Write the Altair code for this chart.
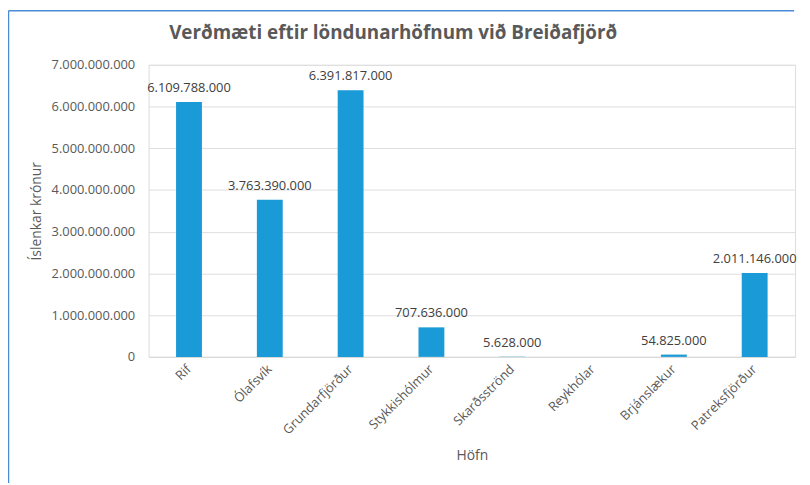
import altair as alt
import pandas as pd

hafnir = ["Rif", "Ólafsvík", "Grundarfjörður", "Stykkishólmur",
          "Skarðsströnd", "Reykhólar", "Brjánslækur", "Patreksfjörður"]
verdmaeti = [6109788000, 3763390000, 6391817000, 707636000,
             5628000, None, 54825000, 2011146000]
y_ticks = [0, 1e9, 2e9, 3e9, 4e9, 5e9, 6e9, 7e9]
titill = "Verðmæti eftir löndunarhöfnum við Breiðafjörð"

df = pd.DataFrame({"hofn": hafnir, "verd": verdmaeti})

FONT = "Open Sans"
GRAY = "#595959"
BAR = "#1a9ad6"

x_enc = alt.X("hofn:N", sort=hafnir,
              scale=alt.Scale(paddingInner=0.68, paddingOuter=0.34),
              axis=alt.Axis(title="Höfn", labelAngle=-45, labelAlign="right",
                            labelBaseline="middle", labelPadding=10,
                            labelFontSize=13, labelColor=GRAY, labelFont=FONT,
                            ticks=False, domainColor="#d9d9d9",
                            titleFontSize=14, titleColor=GRAY, titleFont=FONT,
                            titleFontWeight="normal", titleY=93,
                            titleBaseline="top"))
y_enc = alt.Y("verd:Q", scale=alt.Scale(domain=[0, 7e9]),
              axis=alt.Axis(title="Íslenkar krónur", values=y_ticks,
                            format=",d", labelFontSize=13, labelColor=GRAY,
                            labelFont=FONT, labelPadding=14, ticks=False,
                            domain=False, gridColor="#dedede",
                            titleFontSize=14, titleColor=GRAY, titleFont=FONT,
                            titleFontWeight="normal", titleX=-106,
                            titleBaseline="bottom"))

base = alt.Chart(df)
bars = base.mark_bar(color=BAR).encode(x=x_enc, y=y_enc)
labels = base.transform_filter("isValid(datum.verd)").mark_text(
    baseline="bottom", dy=-7, fontSize=13, font=FONT, color="#404040"
).encode(x=alt.X("hofn:N", sort=hafnir), y="verd:Q",
         text=alt.Text("verd:Q", format=",d"))

one_df = pd.DataFrame({"titill": [titill]})
title_mark = alt.Chart(one_df).mark_text(
    fontSize=19, font=FONT, fontWeight="bold", color=GRAY,
    align="center", baseline="middle"
).encode(x=alt.value(247), y=alt.value(-32), text="titill:N")

left_border = alt.Chart(one_df).mark_rule(color="#4a8bd4", strokeWidth=1.5).encode(
    x=alt.value(-141.5), y=alt.value(-54.5), y2=alt.value(425))
top_border = alt.Chart(one_df).mark_rule(color="#4a8bd4", strokeWidth=1.5).encode(
    x=alt.value(-141.5), x2=alt.value(652), y=alt.value(-54.5))

chart = alt.layer(bars, labels, title_mark, left_border, top_border).properties(
    width=653, height=295,
    autosize=alt.AutoSizeParams(type="none"),
    padding={"left": 142, "top": 55, "right": 7, "bottom": 125},
    background="white",
).configure_view(stroke=None).configure(
    locale={"number": {"decimal": ",", "thousands": ".", "grouping": [3],
                       "currency": ["", " kr."]}}
)

chart.save("out.html", embed_options={"renderer": "svg", "actions": False})
